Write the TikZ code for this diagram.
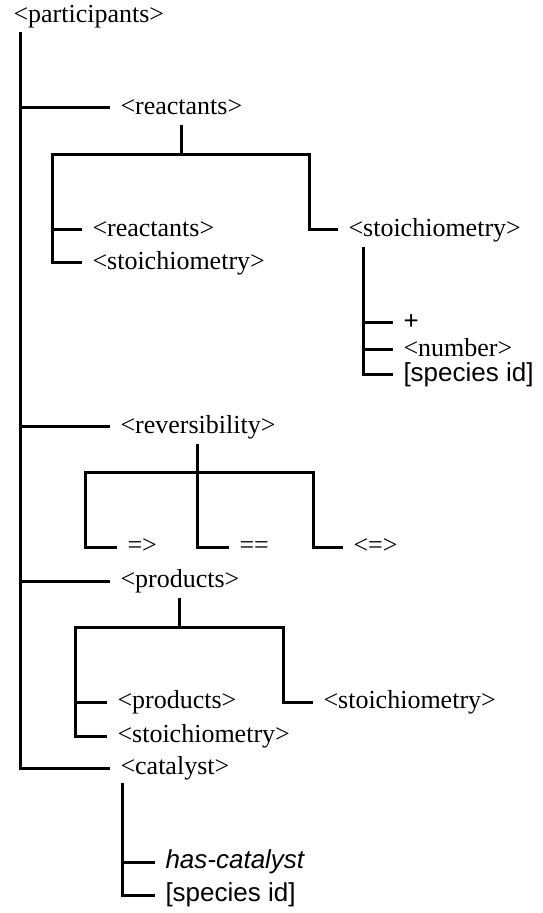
\documentclass[tikz,border=0pt]{standalone}
\usepackage{fontspec}
\setmainfont{Liberation Serif}
\setsansfont{Liberation Sans}
\begin{document}
\begin{tikzpicture}[x=0.5pt,y=-0.5pt,line width=1.5pt,
  every node/.style={font=\fontsize{13}{15}\selectfont,anchor=west,inner xsep=4.5pt,inner ysep=0pt,text height=9pt,text depth=2.6pt},
  sans/.style={font=\fontsize{13}{15}\selectfont\sffamily},
  sansit/.style={font=\fontsize{13}{15}\selectfont\sffamily\itshape}]
 \useasboundingbox (0,0) rectangle (542,913);
 % top level
 \node (part) at (3,16) {<participants>};
 \node (reac) at (110,108) {<reactants>};
 \node (rev) at (110,427) {<reversibility>};
 \node (prod) at (110,581) {<products>};
 \node (cat) at (110,768) {<catalyst>};
 \coordinate (trunk) at (20,32);
 \draw (trunk) |- (cat.west);
 \foreach \n in {reac,rev,prod} \draw (trunk |- \n.west) -- (\n.west);
 % reactants
 \node (reac-r) at (82,230) {<reactants>};
 \node (reac-s) at (82,263) {<stoichiometry>};
 \node (reac-st) at (338,230) {<stoichiometry>};
 \draw [shorten <=2pt] (reac.south) -- (reac.south |- 0,155);
 \draw (reac-s.west) -| (52,155) -- (309,155) |- (reac-st.west);
 \draw (reac-r.west) -- (52,230);
 % stoichiometry
 \node [sans] (plus) at (393,323) {+};
 \node (num) at (393,350) {<number>};
 \node [sans] (sid1) at (393,375) {[species id]};
 \coordinate (st) at (363,247);
 \draw (st) |- (sid1.west);
 \draw (st |- plus.west) -- (plus.west);
 \draw (st |- num.west) -- (num.west);
 % reversibility
 \node (fwd) at (117,547) {=>};
 \node (eq) at (229,547) {==};
 \node (bwd) at (343,547) {<=>};
 \draw [shorten <=2pt] (rev.south) |- (eq.west);
 \draw (fwd.west) -| (85,472) -- (313,472) |- (bwd.west);
 % products
 \node (prod-p) at (107,702) {<products>};
 \node (prod-s) at (107,736) {<stoichiometry>};
 \node (prod-st) at (313,702) {<stoichiometry>};
 \draw [shorten <=2pt] (prod.south) -- (prod.south |- 0,627);
 \draw (prod-s.west) -| (75,627) -- (283,627) |- (prod-st.west);
 \draw (prod-p.west) -- (75,702);
 % catalyst
 \node [sansit] (hasc) at (155,862) {has-catalyst};
 \node [sans] (sid2) at (155,895) {[species id]};
 \coordinate (ct) at (122,783);
 \draw (ct) |- (sid2.west);
 \draw (ct |- hasc.west) -- (hasc.west);
\end{tikzpicture}
\end{document}
